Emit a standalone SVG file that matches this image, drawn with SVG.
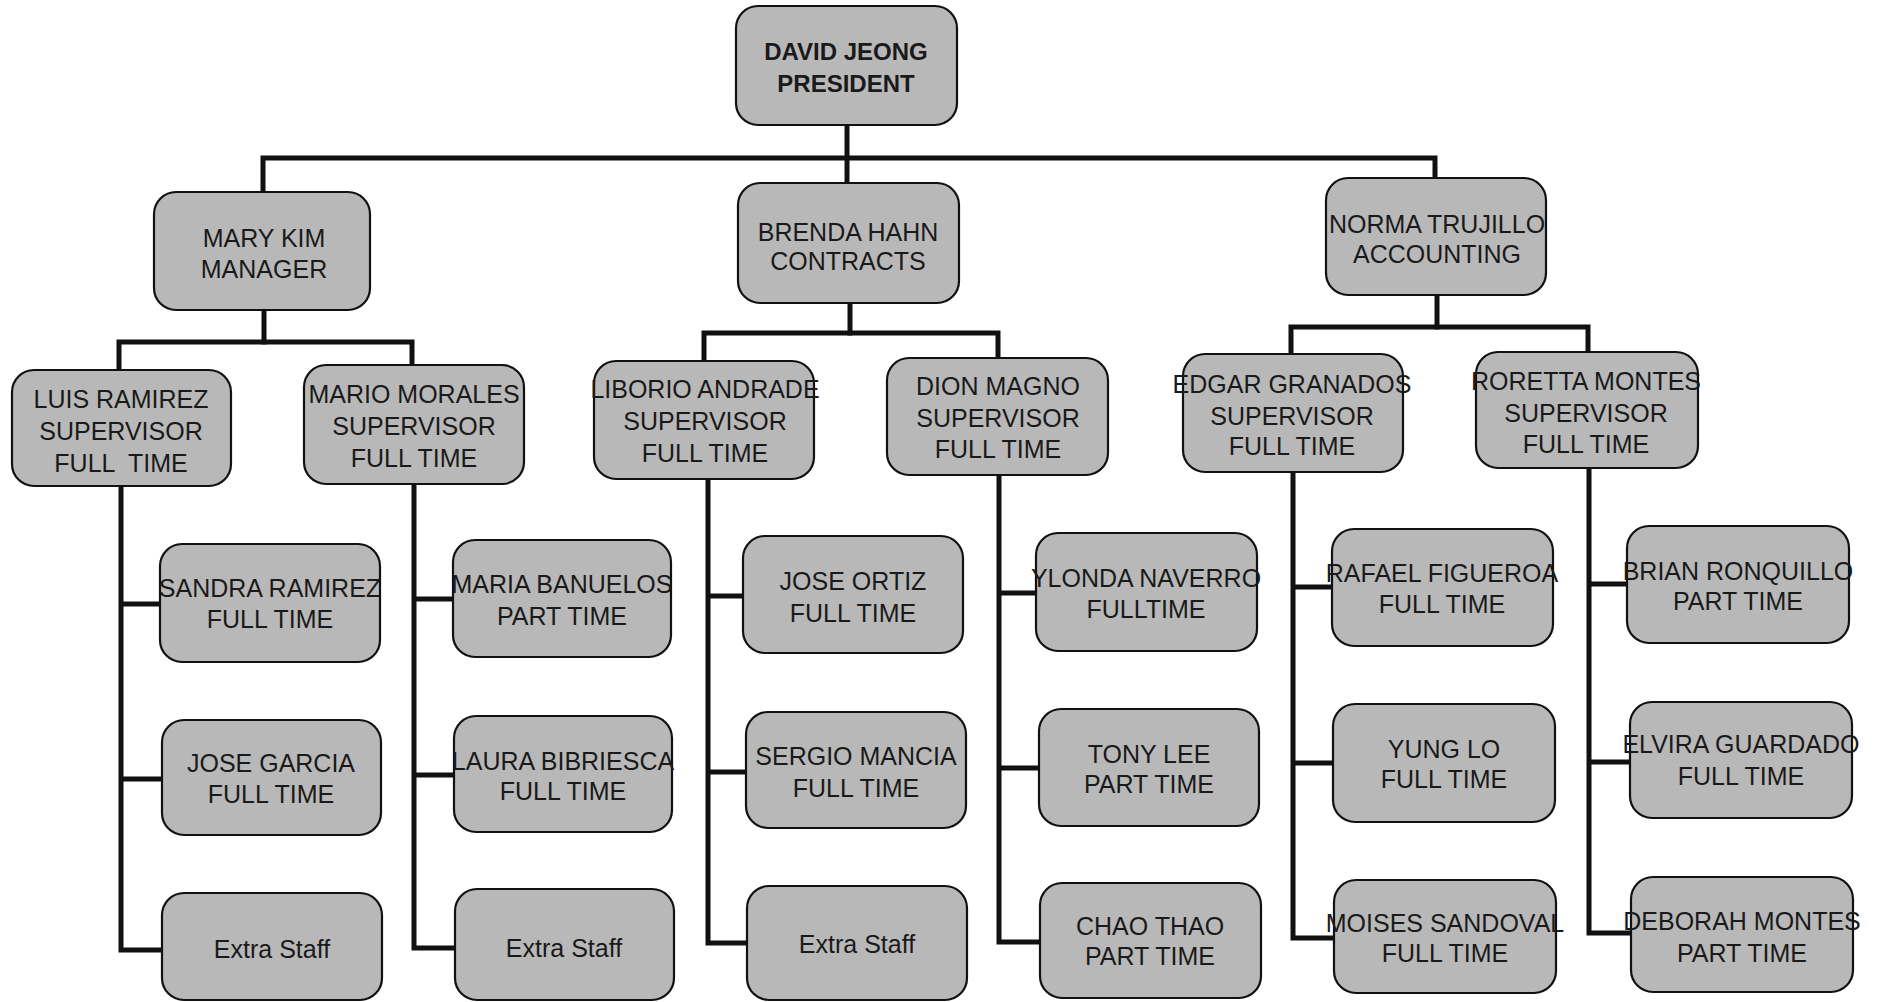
<svg xmlns="http://www.w3.org/2000/svg" width="1883" height="1002" viewBox="0 0 1883 1002">
<style>
.box{fill:#b8b8b8;stroke:#111;stroke-width:2.2}
.t{font-family:"Liberation Sans",Arial,sans-serif;font-size:25px;fill:#1a1a1a;text-anchor:middle}
.b{font-weight:bold;font-size:24px}
.c{fill:none;stroke:#111;stroke-width:5;stroke-linecap:square;stroke-linejoin:miter}
</style>
<rect width="1883" height="1002" fill="#ffffff"/>
<g id="connectors">
<path class="c" d="M847 125 V183"/>
<path class="c" d="M263 192 V158 H1435 V178"/>
<path class="c" d="M264 310 V342"/>
<path class="c" d="M119 370 V342 H412 V365"/>
<path class="c" d="M850 303 V333"/>
<path class="c" d="M704 361 V333 H998 V358"/>
<path class="c" d="M1437 296 V327"/>
<path class="c" d="M1291 354 V327 H1588 V352"/>
<path class="c" d="M121 486 V950 H162 M121 604 H160 M121 779 H162"/>
<path class="c" d="M414 484 V948 H455 M414 599 H453 M414 775 H454"/>
<path class="c" d="M708 478 V943 H747 M708 596 H743 M708 772 H746"/>
<path class="c" d="M999 474 V942 H1040 M999 593 H1036 M999 768 H1039"/>
<path class="c" d="M1293 472 V938 H1334 M1293 587 H1332 M1293 763 H1333"/>
<path class="c" d="M1589 468 V933 H1631 M1589 584 H1627 M1589 762 H1630"/>
</g>
<g id="n-president"><rect class="box" x="736" y="6" width="221" height="119" rx="22"/><text class="t b" x="846" y="60">DAVID JEONG</text><text class="t b" x="846" y="92">PRESIDENT</text></g>
<g id="n-mary"><rect class="box" x="154" y="192" width="216" height="118" rx="22"/><text class="t" x="264" y="247">MARY KIM</text><text class="t" x="264" y="278">MANAGER</text></g>
<g id="n-brenda"><rect class="box" x="738" y="183" width="221" height="120" rx="22"/><text class="t" x="848" y="241">BRENDA HAHN</text><text class="t" x="848" y="270">CONTRACTS</text></g>
<g id="n-norma"><rect class="box" x="1326" y="178" width="220" height="117" rx="22"/><text class="t" x="1437" y="233">NORMA TRUJILLO</text><text class="t" x="1437" y="263">ACCOUNTING</text></g>
<g id="n-luis"><rect class="box" x="12" y="370" width="219" height="116" rx="22"/><text class="t" x="121" y="408">LUIS RAMIREZ</text><text class="t" x="121" y="440">SUPERVISOR</text><text class="t" x="121" y="472" xml:space="preserve">FULL  TIME</text></g>
<g id="n-mario"><rect class="box" x="304" y="365" width="220" height="119" rx="22"/><text class="t" x="414" y="403">MARIO MORALES</text><text class="t" x="414" y="435">SUPERVISOR</text><text class="t" x="414" y="467">FULL TIME</text></g>
<g id="n-liborio"><rect class="box" x="594" y="361" width="220" height="118" rx="22"/><text class="t" x="705" y="398">LIBORIO ANDRADE</text><text class="t" x="705" y="430">SUPERVISOR</text><text class="t" x="705" y="462">FULL TIME</text></g>
<g id="n-dion"><rect class="box" x="887" y="358" width="221" height="117" rx="22"/><text class="t" x="998" y="395">DION MAGNO</text><text class="t" x="998" y="427">SUPERVISOR</text><text class="t" x="998" y="458">FULL TIME</text></g>
<g id="n-edgar"><rect class="box" x="1183" y="354" width="220" height="118" rx="22"/><text class="t" x="1292" y="393">EDGAR GRANADOS</text><text class="t" x="1292" y="425">SUPERVISOR</text><text class="t" x="1292" y="455">FULL TIME</text></g>
<g id="n-roretta"><rect class="box" x="1476" y="352" width="222" height="116" rx="22"/><text class="t" x="1586" y="390">RORETTA MONTES</text><text class="t" x="1586" y="422">SUPERVISOR</text><text class="t" x="1586" y="453">FULL TIME</text></g>
<g id="n-sandra"><rect class="box" x="160" y="544" width="220" height="118" rx="22"/><text class="t" x="270" y="597">SANDRA RAMIREZ</text><text class="t" x="270" y="628">FULL TIME</text></g>
<g id="n-josegarcia"><rect class="box" x="162" y="720" width="219" height="115" rx="22"/><text class="t" x="271" y="772">JOSE GARCIA</text><text class="t" x="271" y="803">FULL TIME</text></g>
<g id="n-extra1"><rect class="box" x="162" y="893" width="220" height="107" rx="22"/><text class="t" x="272" y="958">Extra Staff</text></g>
<g id="n-maria"><rect class="box" x="453" y="540" width="218" height="117" rx="22"/><text class="t" x="562" y="593">MARIA BANUELOS</text><text class="t" x="562" y="625">PART TIME</text></g>
<g id="n-laura"><rect class="box" x="454" y="716" width="218" height="116" rx="22"/><text class="t" x="563" y="770">LAURA BIBRIESCA</text><text class="t" x="563" y="800">FULL TIME</text></g>
<g id="n-extra2"><rect class="box" x="455" y="889" width="219" height="111" rx="22"/><text class="t" x="564" y="957">Extra Staff</text></g>
<g id="n-joseortiz"><rect class="box" x="743" y="536" width="220" height="117" rx="22"/><text class="t" x="853" y="590">JOSE ORTIZ</text><text class="t" x="853" y="622">FULL TIME</text></g>
<g id="n-sergio"><rect class="box" x="746" y="712" width="220" height="116" rx="22"/><text class="t" x="856" y="765">SERGIO MANCIA</text><text class="t" x="856" y="797">FULL TIME</text></g>
<g id="n-extra3"><rect class="box" x="747" y="886" width="220" height="114" rx="22"/><text class="t" x="857" y="953">Extra Staff</text></g>
<g id="n-ylonda"><rect class="box" x="1036" y="533" width="221" height="118" rx="22"/><text class="t" x="1146" y="587">YLONDA NAVERRO</text><text class="t" x="1146" y="618">FULLTIME</text></g>
<g id="n-tony"><rect class="box" x="1039" y="709" width="220" height="117" rx="22"/><text class="t" x="1149" y="763">TONY LEE</text><text class="t" x="1149" y="793">PART TIME</text></g>
<g id="n-chao"><rect class="box" x="1040" y="883" width="221" height="115" rx="22"/><text class="t" x="1150" y="935">CHAO THAO</text><text class="t" x="1150" y="965">PART TIME</text></g>
<g id="n-rafael"><rect class="box" x="1332" y="529" width="221" height="117" rx="22"/><text class="t" x="1442" y="582">RAFAEL FIGUEROA</text><text class="t" x="1442" y="613">FULL TIME</text></g>
<g id="n-yung"><rect class="box" x="1333" y="704" width="222" height="118" rx="22"/><text class="t" x="1444" y="758">YUNG LO</text><text class="t" x="1444" y="788">FULL TIME</text></g>
<g id="n-moises"><rect class="box" x="1334" y="880" width="222" height="113" rx="22"/><text class="t" x="1445" y="932">MOISES SANDOVAL</text><text class="t" x="1445" y="962">FULL TIME</text></g>
<g id="n-brian"><rect class="box" x="1627" y="526" width="222" height="117" rx="22"/><text class="t" x="1738" y="580">BRIAN RONQUILLO</text><text class="t" x="1738" y="610">PART TIME</text></g>
<g id="n-elvira"><rect class="box" x="1630" y="702" width="222" height="116" rx="22"/><text class="t" x="1741" y="753">ELVIRA GUARDADO</text><text class="t" x="1741" y="785">FULL TIME</text></g>
<g id="n-deborah"><rect class="box" x="1631" y="877" width="222" height="115" rx="22"/><text class="t" x="1742" y="930">DEBORAH MONTES</text><text class="t" x="1742" y="962">PART TIME</text></g>
</svg>
